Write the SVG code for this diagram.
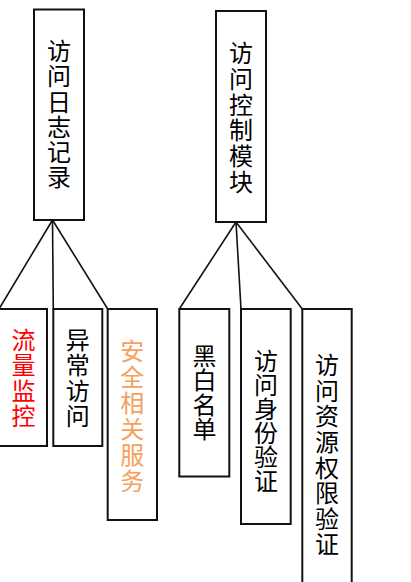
<svg xmlns="http://www.w3.org/2000/svg" width="411" height="582" viewBox="0 0 411 582">
<style>
.box{fill:#fff;stroke:#111;stroke-width:2}
.ln{stroke:#111;stroke-width:1.6;fill:none}
text{font-family:"Noto Sans CJK SC","Noto Sans CJK JP",sans-serif;font-size:24px;text-anchor:middle;writing-mode:vertical-rl;fill:#000}
.red{fill:#ff0000}
.orange{fill:#f5a05c}
</style>
<rect width="411" height="582" fill="#fff"/>
<g id="connectors">
<line class="ln" x1="52.5" y1="220" x2="-1" y2="309"/>
<line class="ln" x1="52.5" y1="220" x2="53.3" y2="309"/>
<line class="ln" x1="52.5" y1="220" x2="107.7" y2="309"/>
<line class="ln" x1="236" y1="222" x2="179.3" y2="309"/>
<line class="ln" x1="236" y1="222" x2="241" y2="309"/>
<line class="ln" x1="236" y1="222" x2="302.3" y2="309"/>
</g>
<g id="log">
<rect class="box" x="34" y="9.5" width="50" height="210.5"/>
<text x="59" y="114.6" letter-spacing="1.2">访问日志记录</text>
</g>
<g id="access">
<rect class="box" x="216" y="11" width="50" height="211"/>
<text x="241" y="118.1" letter-spacing="1.7">访问控制模块</text>
</g>
<g id="traffic">
<rect class="box" x="-1" y="309" width="48" height="137"/>
<text class="red" x="23.5" y="378.5" letter-spacing="1.5">流量监控</text>
</g>
<g id="abnormal">
<rect class="box" x="53.3" y="309" width="49" height="137"/>
<text x="77.7" y="378.5" letter-spacing="1.5">异常访问</text>
</g>
<g id="security">
<rect class="box" x="107.7" y="309" width="49.3" height="211"/>
<text class="orange" x="132.3" y="417" letter-spacing="2">安全相关服务</text>
</g>
<g id="blackwhite">
<rect class="box" x="179.3" y="309" width="50" height="167.5"/>
<text x="204.5" y="392.5" letter-spacing="0.5">黑白名单</text>
</g>
<g id="identity">
<rect class="box" x="241" y="309" width="49.7" height="215"/>
<text x="266" y="421" letter-spacing="0">访问身份验证</text>
</g>
<g id="resource">
<rect class="box" x="302.3" y="309" width="49.4" height="291"/>
<text x="327" y="455.4" letter-spacing="1.6">访问资源权限验证</text>
</g>
</svg>
